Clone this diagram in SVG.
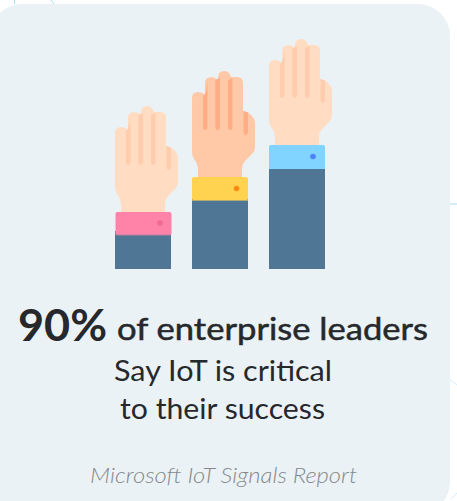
<svg xmlns="http://www.w3.org/2000/svg" xmlns:xlink="http://www.w3.org/1999/xlink" width="457" height="501" viewBox="0 0 457 501">
<style>
.t{font-family:"Lato","Noto Sans","Liberation Sans",sans-serif;fill:#26282b}
.sleeve{fill:#4f7795}
.deco{fill:none;stroke:#a5dcf7}
</style>
<defs>
<path id="hand" d="M121 212V205Q121 199 117 194Q115 191 115 186V133Q115 127 121 127Q125 127 128 130V118Q128 112 134.500 112Q138 112 141 115V112Q141 106 147.500 106Q152 106 154 112Q157 112 160 112Q166 112 166 118V146Q172 147 175 151Q178 154 178 159V182Q178 186 175 189L169 195Q165 199 165 205V212Z"/>
<path id="strips" d="M126 131Q130 128 130.500 115V161Q130.500 165 128 165Q126 165 126 161ZM138.300 115L143 113V161Q143 165 140.600 165Q138.300 165 138.300 161ZM151 115L155.500 113V161Q155.500 165 153.200 165Q151 165 151 161ZM166.500 146L171 147.500V166Q171 170 168.700 170Q166.500 170 166.500 166Z"/>
</defs>
<g id="background-traces">
<path class="deco" d="M14.500 0V4M51 0L54 4M450 204H457"/>
<path class="deco" stroke-width=".5" d="M450 380L457 385M451 499L457 493"/>
</g>
<rect id="card" x="-10" y="4" width="460" height="510" rx="32" fill="#eaf2f6"/>
<g id="hand-pink">
<use href="#hand" fill="#ffdcc2"/>
<use href="#strips" fill="#ffcdae"/>
<rect class="sleeve" x="115" y="231" width="56" height="38"/>
<rect x="115.500" y="212" width="56" height="23.500" rx="2" fill="#ff82a8"/>
<rect x="115.500" y="234.800" width="55.500" height=".8" fill="#6c7b98"/>
<circle cx="160" cy="223" r="2.800" fill="#ee6b95"/>
</g>
<g id="hand-yellow">
<use href="#hand" x="77" y="-35" fill="#ffc8a6"/>
<use href="#strips" x="77" y="-35" fill="#ffad85"/>
<rect class="sleeve" x="192" y="196" width="56" height="73"/>
<rect x="192" y="177" width="56" height="23.500" rx="2" fill="#ffd250"/>
<rect x="192" y="200" width="56" height="1" fill="#b3ac70"/>
<circle cx="236.500" cy="188.500" r="2.800" fill="#ff8a14"/>
</g>
<g id="hand-blue">
<use href="#hand" x="154" y="-67" fill="#ffdcc2"/>
<use href="#strips" x="154" y="-67" fill="#ffcdae"/>
<rect x="269" y="145" width="56" height="30" rx="2" fill="#80d4ff"/>
<rect class="sleeve" x="269" y="169" width="56" height="100"/>
<circle cx="313" cy="156.500" r="2.800" fill="#4c82ff"/>
</g>
<g id="caption">
<text class="t" x="18" y="341" font-size="43" font-weight="700" textLength="89" lengthAdjust="spacingAndGlyphs">90%</text>
<text class="t" x="117" y="340" font-size="30" stroke="#26282b" stroke-width=".5" textLength="311" lengthAdjust="spacingAndGlyphs">of enterprise leaders</text>
<text class="t" x="114" y="381" font-size="28" textLength="218" lengthAdjust="spacingAndGlyphs">Say IoT is critical</text>
<text class="t" x="120" y="419" font-size="28" textLength="205" lengthAdjust="spacingAndGlyphs">to their success</text>
<text class="t" x="90" y="483" font-size="21" font-style="italic" font-weight="300" style="fill:#85898c" textLength="267" lengthAdjust="spacingAndGlyphs">Microsoft IoT Signals Report</text>
</g>
</svg>
